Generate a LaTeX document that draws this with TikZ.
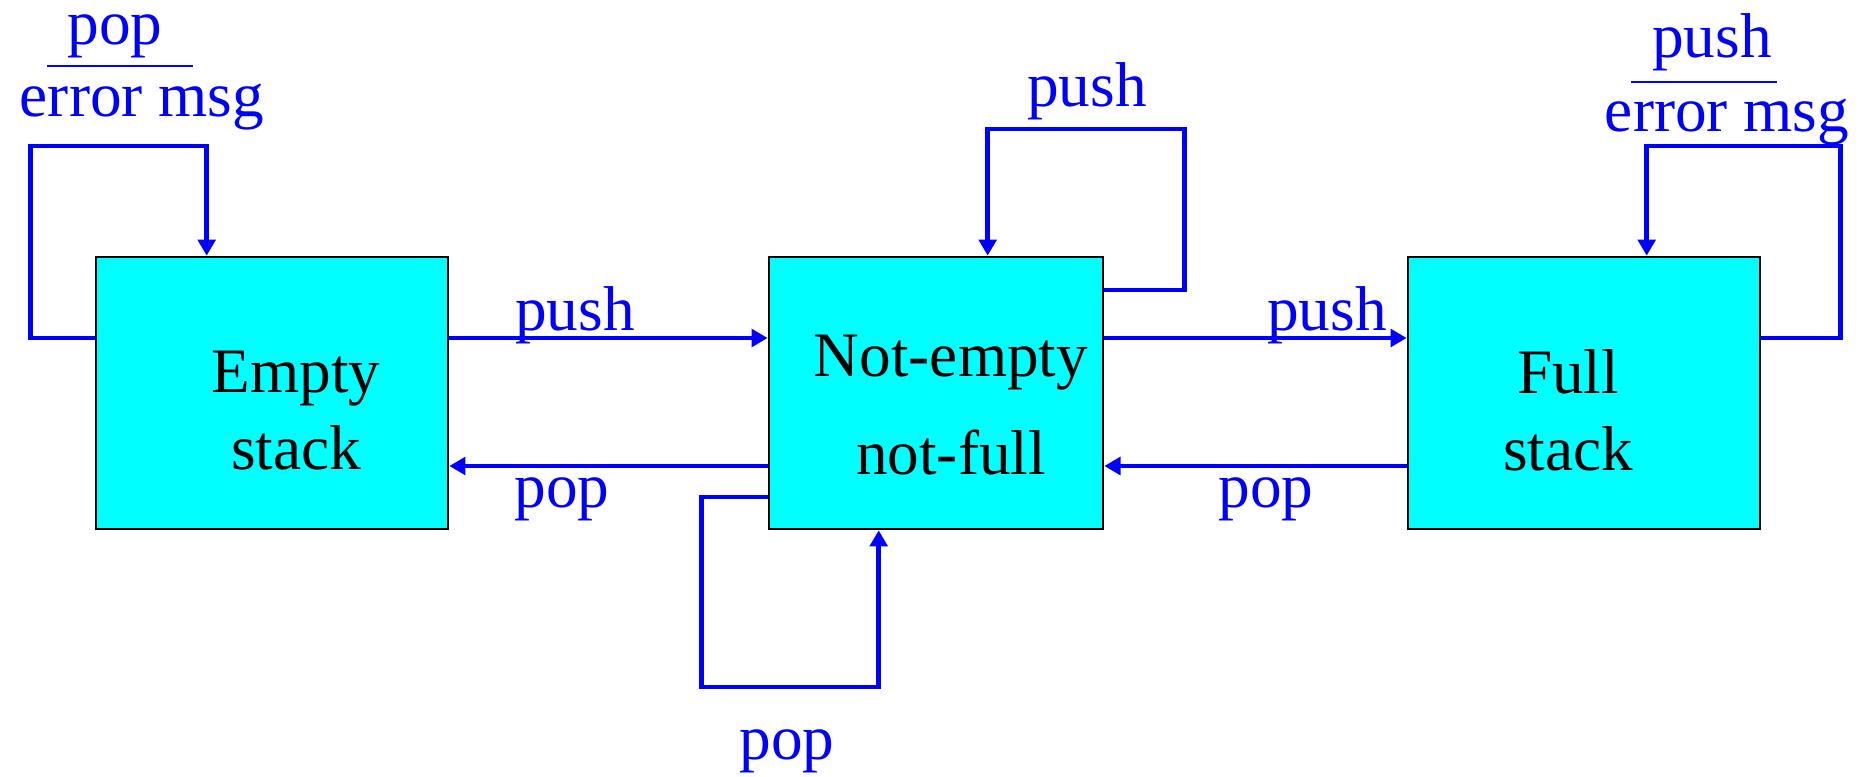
\documentclass[tikz,border=0pt]{standalone}
\usepackage{fontspec}
\setmainfont{Liberation Serif}
\usetikzlibrary{arrows.meta}
\definecolor{stackfill}{RGB}{0,255,255}
\definecolor{opblue}{RGB}{0,0,255}
\tikzset{
    stackbox/.style={rectangle, draw=black, line width=0.75pt, fill=stackfill,
    	minimum height=2.72cm, inner sep=0pt}
}
\tikzset{
    boxtext/.style={align=center, inner sep=0pt,
    	font=\fontsize{18}{21.9}\selectfont}
}
\tikzset{
    trans/.style={draw=opblue, line width=1.35pt,
    	-{Triangle[length=4.6pt,width=5pt]}}
}
\tikzset{
    oplabel/.style={text=opblue, anchor=base, inner sep=0pt,
    	font=\fontsize{18}{21.9}\selectfont}
}

\begin{document}
\begin{tikzpicture}
  \useasboundingbox (0cm, 0cm) rectangle (18.63cm, 7.76cm);

  % the three states
  \node (empty) [stackbox, minimum width=3.52cm,
    label={[boxtext, xshift=2.4mm, yshift=-1.8mm]center:{Empty\\stack}}]
    at (2.72cm, 3.83cm) {};
  \node (mid) [stackbox, minimum width=3.34cm,
    label={[boxtext, xshift=1.5mm, yshift=-1.25mm]center:{Not-empty\\[6pt]not-full}}]
    at (9.36cm, 3.83cm) {};
  \node (full) [stackbox, minimum width=3.52cm,
    label={[boxtext, xshift=-1.6mm, yshift=-1.75mm]center:{Full\\stack}}]
    at (15.84cm, 3.83cm) {};

  % transitions between states
  \draw [trans] ([yshift=5.5mm]empty.east) -- ([yshift=5.5mm]mid.west);
  \draw [trans] ([yshift=-7.3mm]mid.west) -- ([yshift=-7.3mm]empty.east);
  \draw [trans] ([yshift=5.5mm]mid.east) -- ([yshift=5.5mm]full.west);
  \draw [trans] ([yshift=-7.3mm]full.west) -- ([yshift=-7.3mm]mid.east);

  % self loops
  \draw [trans] ([yshift=5.5mm]empty.west) -- ++(-0.64cm, 0cm) -- ++(0cm, 1.92cm)
    -| ([xshift=1.12cm]empty.north west);
  \draw [trans] ([yshift=10.3mm]mid.east) -- ++(0.80cm, 0cm) -- ++(0cm, 1.61cm)
    -| ([xshift=2.20cm]mid.north west);
  \draw [trans] ([yshift=-10.4mm]mid.west) -- ++(-0.66cm, 0cm) -- ++(0cm, -1.90cm)
    -| ([xshift=1.11cm]mid.south west);
  \draw [trans] ([yshift=5.5mm]full.east) -- ++(0.79cm, 0cm) -- ++(0cm, 1.92cm)
    -| ([xshift=2.40cm]full.north west);

  % labels
  \node (push1) [oplabel] at (5.75cm, 4.46cm) {push};
  \node (pop1) [oplabel] at (5.62cm, 2.69cm) {pop};
  \node (push2) [oplabel] at (13.27cm, 4.46cm) {push};
  \node (pop2) [oplabel] at (12.66cm, 2.69cm) {pop};
  \node (pushmid) [oplabel] at (10.87cm, 6.69cm) {push};
  \node (popmid) [oplabel] at (7.87cm, 0.17cm) {pop};

  \node (poperr) [oplabel] at (1.15cm, 7.31cm) {pop};
  \node (poperrmsg) [oplabel] at (1.42cm, 6.59cm) {error msg};
  \draw [opblue, line width=0.8pt] (0.47cm, 7.10cm) -- (1.93cm, 7.10cm);

  \node (pusherr) [oplabel] at (17.12cm, 7.18cm) {push};
  \node (pusherrmsg) [oplabel] at (17.27cm, 6.44cm) {error msg};
  \draw [opblue, line width=0.8pt] (16.31cm, 6.94cm) -- (17.77cm, 6.94cm);
\end{tikzpicture}
\end{document}
